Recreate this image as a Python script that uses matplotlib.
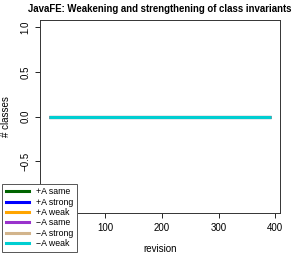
import matplotlib
matplotlib.use("Agg")
import matplotlib.pyplot as plt
from matplotlib.lines import Line2D

plt.rcParams['font.family'] = ['Liberation Sans', 'DejaVu Sans']

# data: every series stays at zero over all revisions
revisions = [0, 393]
plus_same = [0, 0]
plus_strong = [0, 0]
plus_weak = [0, 0]
minus_same = [0, 0]
minus_strong = [0, 0]
minus_weak = [0, 0]

labels = ['+A same', '+A strong', '+A weak', '\u2212A same', '\u2212A strong', '\u2212A weak']
colors = ['darkgreen', 'blue', 'orange', 'darkorchid', 'tan', 'darkturquoise']
series = [plus_same, plus_strong, plus_weak, minus_same, minus_strong, minus_weak]

W, H = 294, 254
fig = plt.figure(figsize=(W / 100, H / 100), dpi=100)
ax = fig.add_axes([40 / W, 1 - 213 / H, 240 / W, 193 / H])

for vals, c in zip(series, colors):
    ax.plot(revisions, vals, color=c, lw=2.2, solid_capstyle='butt')

ax.set_xlim(-15.7, 408.7)
ax.set_ylim(-1.08, 1.08)
ax.set_xticks([0, 100, 200, 300, 400])
# the 0 and -1.0 labels sit under the legend
ax.set_xticklabels(['', '100', '200', '300', '400'])
ax.set_yticks([-1.0, -0.5, 0.0, 0.5, 1.0])
ax.set_yticklabels(['', '\u22120.5', '0.0', '0.5', '1.0'], rotation=90, va='center')
ax.tick_params(labelsize=7, length=3.5, width=0.6, pad=3.5)
for s in ax.spines.values():
    s.set_linewidth(0.7)
    s.set_color('#333333')

ax.set_title('JavaFE: Weakening and strengthening of class invariants',
             fontsize=6.95, fontweight='bold', pad=6)
ax.set_xlabel('revision', fontsize=7, labelpad=8)
ax.set_ylabel('# classes', fontsize=7, ha='center', va='center')
ax.yaxis.set_label_coords(-0.14, 0.5)

handles = [Line2D([0], [0], color=c, lw=2.2) for c in colors]
leg = fig.legend(handles, labels, loc='lower left',
                 bbox_to_anchor=(2 / W, 2 / H), fontsize=6.3,
                 frameon=True, fancybox=False, framealpha=1,
                 edgecolor='#555555', handlelength=2.6, handletextpad=0.8,
                 labelspacing=0.15, borderpad=0.45, borderaxespad=0)
leg.get_frame().set_linewidth(0.7)

fig.savefig('out.png', dpi=100)
